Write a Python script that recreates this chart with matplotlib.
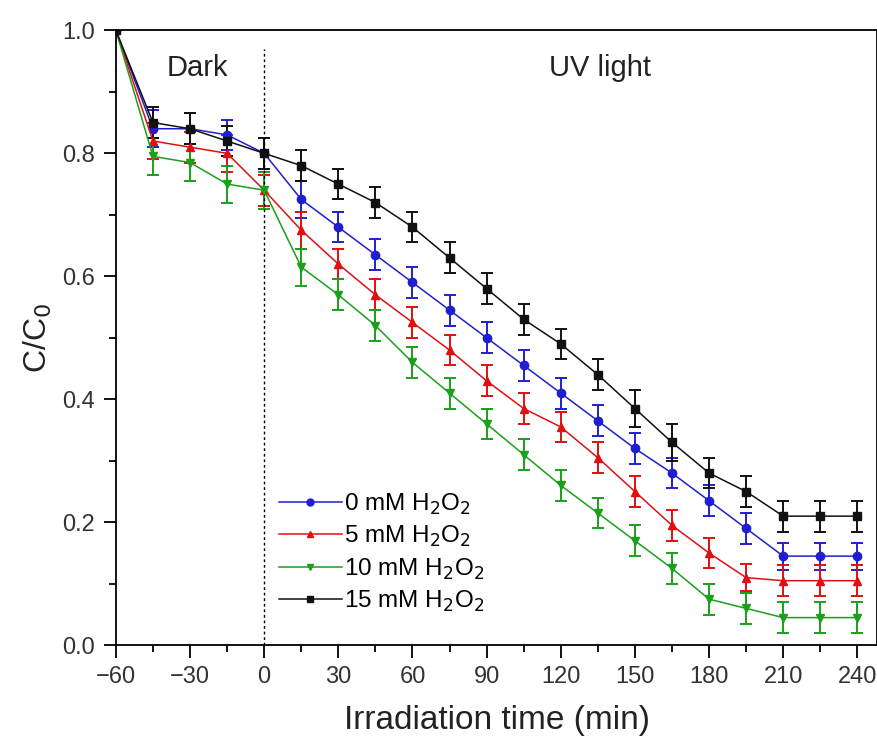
import matplotlib
matplotlib.use("Agg")
import matplotlib.pyplot as plt
from matplotlib.ticker import MultipleLocator
from matplotlib.lines import Line2D

plt.rcParams['font.family'] = ['Liberation Sans', 'DejaVu Sans']

time = [-60, -45, -30, -15, 0, 15, 30, 45, 60, 75, 90, 105, 120, 135, 150, 165, 180, 195, 210, 225, 240]

c_0mM = [1.0, 0.84, 0.84, 0.83, 0.80, 0.725, 0.68, 0.635, 0.59, 0.545, 0.50, 0.455, 0.41, 0.365, 0.32, 0.28, 0.235, 0.19, 0.145, 0.145, 0.145]
c_5mM = [1.0, 0.82, 0.81, 0.80, 0.74, 0.675, 0.62, 0.57, 0.525, 0.48, 0.43, 0.385, 0.355, 0.305, 0.25, 0.195, 0.15, 0.11, 0.105, 0.105, 0.105]
c_10mM = [1.0, 0.795, 0.785, 0.75, 0.74, 0.615, 0.57, 0.52, 0.46, 0.41, 0.36, 0.31, 0.26, 0.215, 0.17, 0.125, 0.075, 0.06, 0.045, 0.045, 0.045]
c_15mM = [1.0, 0.85, 0.84, 0.82, 0.80, 0.78, 0.75, 0.72, 0.68, 0.63, 0.58, 0.53, 0.49, 0.44, 0.385, 0.33, 0.28, 0.25, 0.21, 0.21, 0.21]

err_0mM = [0.0, 0.03, 0.025, 0.025, 0.025, 0.03, 0.025, 0.025, 0.025, 0.025, 0.025, 0.025, 0.025, 0.025, 0.025, 0.025, 0.025, 0.025, 0.022, 0.022, 0.022]
err_5mM = [0.0, 0.03, 0.025, 0.03, 0.025, 0.03, 0.025, 0.025, 0.025, 0.025, 0.025, 0.025, 0.025, 0.025, 0.025, 0.025, 0.025, 0.022, 0.025, 0.025, 0.025]
err_10mM = [0.0, 0.03, 0.03, 0.03, 0.03, 0.03, 0.025, 0.025, 0.025, 0.025, 0.025, 0.025, 0.025, 0.025, 0.025, 0.025, 0.025, 0.025, 0.025, 0.025, 0.025]
err_15mM = [0.0, 0.025, 0.025, 0.025, 0.025, 0.025, 0.025, 0.025, 0.025, 0.025, 0.025, 0.025, 0.025, 0.025, 0.03, 0.03, 0.025, 0.025, 0.025, 0.025, 0.025]

labels = ['0 mM H$_2$O$_2$', '5 mM H$_2$O$_2$', '10 mM H$_2$O$_2$', '15 mM H$_2$O$_2$']
colors = ['#1f1fd0', '#e01010', '#1aa01a', '#111111']
markers = ['o', '^', 'v', 's']

fig = plt.figure(figsize=(8.78, 7.4), dpi=100)
ax = fig.add_axes([0.132, 0.128, 0.867, 0.831])

series = [(c_0mM, err_0mM), (c_5mM, err_5mM), (c_10mM, err_10mM), (c_15mM, err_15mM)]
handles = []
for (vals, errs), lab, col, mk in zip(series, labels, colors, markers):
    ax.errorbar(time, vals, yerr=errs, color=col, marker=mk, markersize=6,
                linewidth=1.1, elinewidth=1.4, capsize=4.5, capthick=1.4)
    handles.append(Line2D([], [], color=col, marker=mk, markersize=5,
                          linewidth=1.1, label=lab))

ax.axvline(0, color='black', linestyle=(0, (2, 2)), linewidth=1.0, ymin=0, ymax=0.97)

ax.text(-27, 0.938, 'Dark', fontsize=21, ha='center', va='center', color='#222222')
ax.text(136, 0.938, 'UV light', fontsize=21, ha='center', va='center', color='#222222')

ax.set_xlim(-60, 248)
ax.set_ylim(0, 1.0)
ax.xaxis.set_minor_locator(MultipleLocator(15))
ax.yaxis.set_minor_locator(MultipleLocator(0.1))
ax.set_xticks(range(-60, 241, 30))
ax.set_xticklabels(['\u221260', '\u221230'] + [str(v) for v in range(0, 241, 30)])
ax.set_yticks([0.0, 0.2, 0.4, 0.6, 0.8, 1.0])
ax.set_yticklabels(['0.0', '0.2', '0.4', '0.6', '0.8', '1.0'])
ax.tick_params(which='major', direction='out', length=9, width=1.3,
               labelsize=17, labelcolor='#333333', pad=6)
ax.tick_params(which='minor', direction='out', length=5, width=1.3)
for s in ax.spines.values():
    s.set_linewidth(1.3)

ax.set_xlabel('Irradiation time (min)', fontsize=24, labelpad=12, color='#222222')
ax.set_ylabel('C/C$_0$', fontsize=23, labelpad=6, color='#222222')

ax.legend(handles=handles, loc='lower left', bbox_to_anchor=(0.185, 0.015),
          frameon=False, fontsize=17.5, handlelength=2.6, handletextpad=0.1,
          labelspacing=0.3)

fig.savefig('out.png', dpi=100)
